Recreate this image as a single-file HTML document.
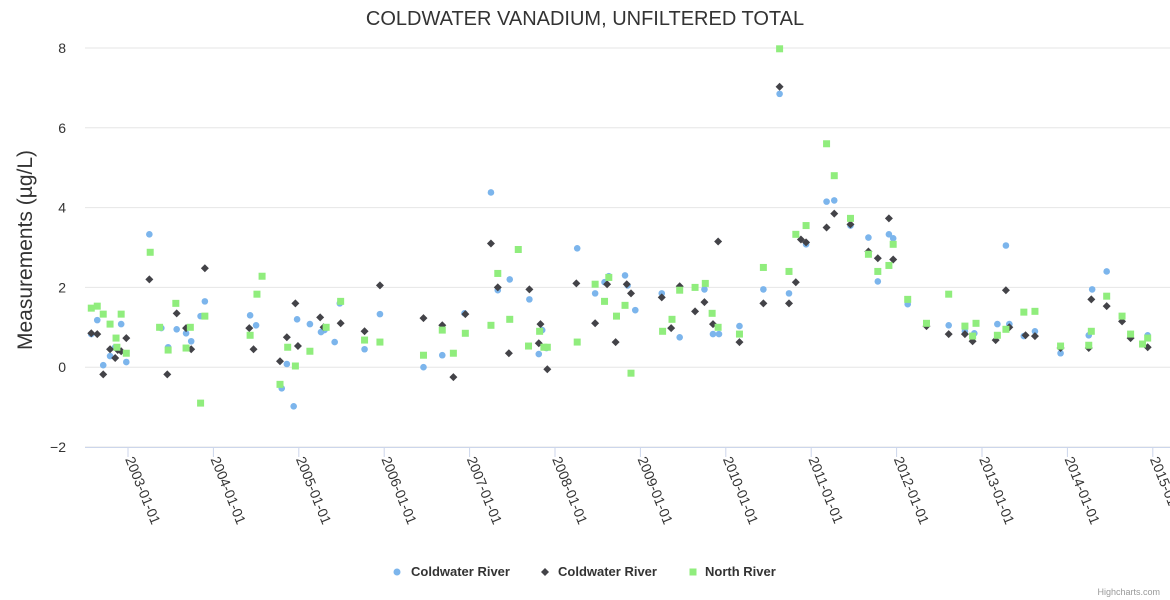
<!DOCTYPE html>
<html><head><meta charset="utf-8"><style>
body{margin:0;background:#fff;}
svg{display:block;font-family:"Liberation Sans",sans-serif;}
</style></head><body>
<svg id="chart" width="1170" height="600">
<text x="585" y="25" text-anchor="middle" font-size="20" fill="#333">COLDWATER VANADIUM, UNFILTERED TOTAL</text>
<text transform="translate(32,250) rotate(-90)" text-anchor="middle" font-size="21" fill="#333">Measurements (µg/L)</text>
<g id="grid"></g><g id="xaxis"></g><g id="marks"></g>
<g>
 <g><circle cx="397" cy="572" r="3.5" fill="#7cb5ec"/><text x="411" y="576" font-size="13" font-weight="bold" fill="#333">Coldwater River</text></g>
 <g><path d="M545 568 L549 572 L545 576 L541 572Z" fill="#434348"/><text x="558" y="576" font-size="13" font-weight="bold" fill="#333">Coldwater River</text></g>
 <g><rect x="689.5" y="568.5" width="7" height="7" fill="#90ed7d"/><text x="705" y="576" font-size="13" font-weight="bold" fill="#333">North River</text></g>
</g>
<text x="1160" y="595" text-anchor="end" font-size="9" fill="#999">Highcharts.com</text>
</svg>
<script>
const yTicks=[-2,0,2,4,6,8];
const xTickYears=[2003,2004,2005,2006,2007,2008,2009,2010,2011,2012,2013,2014,2015];
const blueX=[2002.57,2002.64,2002.71,2002.79,2002.85,2002.92,2002.98,2003.25,2003.39,2003.47,2003.57,2003.68,2003.74,2003.85,2003.90,2004.43,2004.50,2004.80,2004.86,2004.94,2004.98,2005.13,2005.26,2005.30,2005.42,2005.48,2005.77,2005.95,2006.46,2006.68,2006.94,2007.25,2007.33,2007.47,2007.70,2007.81,2007.85,2007.90,2008.26,2008.47,2008.58,2008.63,2008.82,2008.85,2008.94,2009.25,2009.46,2009.75,2009.85,2009.92,2010.16,2010.63,2010.44,2010.74,2010.94,2011.18,2011.27,2011.46,2011.67,2011.78,2011.91,2011.96,2012.13,2012.35,2012.61,2012.80,2012.91,2013.18,2013.28,2013.32,2013.49,2013.62,2013.92,2014.25,2014.29,2014.46,2014.74,2014.94];
const blueY=[0.83,1.18,0.05,0.28,0.50,1.08,0.13,3.33,0.98,0.50,0.95,0.85,0.65,1.28,1.65,1.30,1.05,-0.53,0.08,-0.98,1.20,1.08,0.88,0.93,0.63,1.60,0.45,1.33,0.0,0.30,1.35,4.38,1.93,2.20,1.70,0.33,0.93,0.48,2.98,1.85,2.13,2.28,2.30,2.05,1.43,1.85,0.75,1.95,0.83,0.83,1.03,6.85,1.95,1.85,3.08,4.15,4.18,3.55,3.25,2.15,3.33,3.23,1.58,1.08,1.05,0.90,0.85,1.08,3.05,1.08,0.78,0.90,0.35,0.80,1.95,2.40,0.83,0.80];
const blackX=[2002.57,2002.64,2002.71,2002.79,2002.85,2002.88,2002.92,2002.98,2003.25,2003.46,2003.57,2003.68,2003.74,2003.90,2004.42,2004.47,2004.78,2004.86,2004.96,2004.99,2005.25,2005.29,2005.49,2005.77,2005.95,2006.46,2006.68,2006.81,2006.95,2007.25,2007.33,2007.46,2007.70,2007.81,2007.83,2007.91,2008.25,2008.47,2008.61,2008.71,2008.84,2008.89,2009.25,2009.36,2009.46,2009.64,2009.75,2009.85,2009.91,2010.16,2010.63,2010.44,2010.74,2010.82,2010.88,2010.94,2011.18,2011.27,2011.46,2011.67,2011.78,2011.91,2011.96,2012.35,2012.61,2012.80,2012.89,2013.16,2013.28,2013.32,2013.51,2013.62,2013.92,2014.25,2014.28,2014.46,2014.64,2014.74,2014.94];
const blackY=[0.85,0.83,-0.18,0.45,0.23,0.43,0.40,0.73,2.20,-0.18,1.35,0.98,0.45,2.48,0.98,0.45,0.15,0.75,1.60,0.53,1.25,1.0,1.10,0.90,2.05,1.23,1.05,-0.25,1.33,3.10,2.00,0.35,1.95,0.60,1.08,-0.05,2.10,1.10,2.08,0.63,2.08,1.85,1.75,0.98,2.03,1.40,1.63,1.08,3.15,0.63,7.03,1.60,1.60,2.13,3.20,3.13,3.50,3.85,3.58,2.90,2.73,3.73,2.70,1.03,0.83,0.83,0.65,0.68,1.93,1.00,0.80,0.78,0.48,0.48,1.70,1.53,1.15,0.73,0.50];
const greenX=[2002.57,2002.64,2002.71,2002.79,2002.87,2002.86,2002.92,2002.98,2003.26,2003.37,2003.47,2003.56,2003.68,2003.73,2003.85,2003.90,2004.43,2004.51,2004.57,2004.78,2004.87,2004.96,2005.13,2005.32,2005.49,2005.77,2005.95,2006.46,2006.68,2006.81,2006.95,2007.25,2007.33,2007.47,2007.57,2007.69,2007.82,2007.87,2007.91,2008.26,2008.47,2008.58,2008.63,2008.72,2008.82,2008.89,2009.26,2009.37,2009.46,2009.64,2009.76,2009.84,2009.91,2010.16,2010.63,2010.44,2010.74,2010.82,2010.94,2011.18,2011.27,2011.46,2011.67,2011.78,2011.91,2011.96,2012.13,2012.35,2012.61,2012.80,2012.89,2012.93,2013.18,2013.28,2013.49,2013.62,2013.92,2014.25,2014.28,2014.46,2014.64,2014.74,2014.88,2014.94];
const greenY=[1.48,1.53,1.33,1.08,0.50,0.73,1.33,0.35,2.88,1.00,0.43,1.60,0.48,1.00,-0.90,1.28,0.80,1.83,2.28,-0.43,0.50,0.03,0.40,1.00,1.65,0.68,0.63,0.30,0.93,0.35,0.85,1.05,2.35,1.20,2.95,0.53,0.90,0.50,0.50,0.63,2.08,1.65,2.25,1.28,1.55,-0.15,0.90,1.20,1.93,2.00,2.10,1.35,1.00,0.83,7.98,2.50,2.40,3.33,3.55,5.60,4.80,3.73,2.83,2.40,2.55,3.08,1.70,1.10,1.83,1.03,0.78,1.10,0.80,0.95,1.38,1.40,0.53,0.55,0.90,1.78,1.28,0.83,0.58,0.73];

const NS="http://www.w3.org/2000/svg";
const plotL=85,plotR=1170,yTop=48,yBot=447;
function yS(v){return yBot-(v-(-2))/(8-(-2))*(yBot-yTop);}
function xS(yr){return 128+(yr-2003)*85.4;}
function mk(t,a,p){const e=document.createElementNS(NS,t);for(const k in a)e.setAttribute(k,a[k]);p.appendChild(e);return e;}
const grid=document.getElementById('grid'),xa=document.getElementById('xaxis'),marks=document.getElementById('marks');
yTicks.forEach(v=>{
  const l=mk('line',{x1:plotL,x2:plotR,y1:yS(v),y2:yS(v),stroke:'#e6e6e6','stroke-width':1},grid);
  
  
  const t=mk('text',{x:66,y:yS(v)+5,'text-anchor':'end','font-size':14,fill:'#333'},grid);
  t.textContent=v<0?'\u2212'+(-v):String(v);
  
  
});
mk('line',{x1:plotL,x2:plotR,y1:yBot+0.5,y2:yBot+0.5,stroke:'#ccd6eb'},xa);
xTickYears.forEach(y=>{
  const x=xS(y);
  const tk=mk('line',{x1:x,x2:x,y1:yBot,y2:yBot+10,stroke:'#ccd6eb'},xa);
  
  
  const t=mk('text',{transform:`translate(${x-3},${yBot+12}) rotate(68)`,'font-size':14,fill:'#333'},xa);
  t.textContent=y+'-01-01';
  
  
});
blueX.forEach((x,i)=>{
  const c=mk('circle',{cx:xS(x),cy:yS(blueY[i]),r:3.3,fill:'#7cb5ec'},marks);
  
  
});
blackX.forEach((x,i)=>{
  const px=xS(x),py=yS(blackY[i]);
  const d=mk('path',{d:`M${px} ${py-4}L${px+4} ${py}L${px} ${py+4}L${px-4} ${py}Z`,fill:'#434348'},marks);
  
  
});
greenX.forEach((x,i)=>{
  const s=mk('rect',{x:xS(x)-3.5,y:yS(greenY[i])-3.5,width:7,height:7,fill:'#90ed7d'},marks);
  
  
});
</script>
</body></html>
